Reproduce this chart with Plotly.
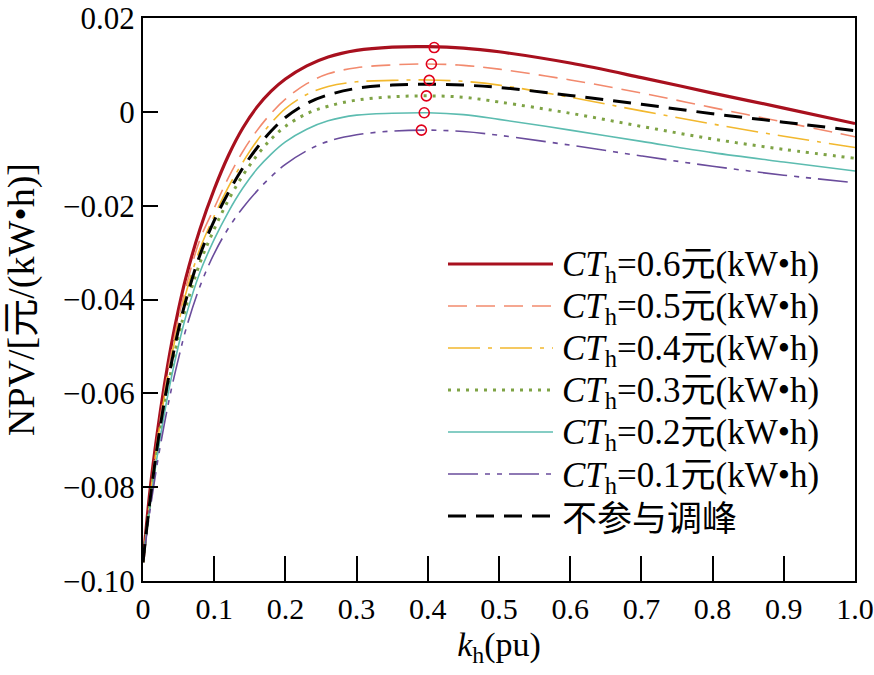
import plotly.graph_objects as go

# k_h (pu) sample points
k = [0, 0.01, 0.02, 0.03, 0.04, 0.05, 0.06, 0.08, 0.10, 0.12, 0.14, 0.16, 0.18,
     0.20, 0.23, 0.26, 0.30, 0.35, 0.40, 0.45, 0.50, 0.60, 0.70, 0.80, 0.90, 1.00]

npv_06 = [-0.096, -0.0805, -0.0685, -0.0583, -0.0495, -0.0420, -0.0355, -0.0250, -0.0165, -0.0093,
          -0.0035, 0.0010, 0.0044, 0.0070, 0.0098, 0.0117, 0.0131, 0.0138, 0.0139, 0.0136,
          0.0128, 0.0104, 0.0073, 0.0040, 0.0008, -0.0025]
npv_05 = [-0.096, -0.0815, -0.0698, -0.0598, -0.0512, -0.0438, -0.0375, -0.0272, -0.0205, -0.0140,
          -0.0085, -0.0040, -0.0003, 0.0027, 0.0060, 0.0081, 0.0094, 0.0100, 0.0102, 0.0099,
          0.0091, 0.0068, 0.0040, 0.0009, -0.0022, -0.0053]
npv_04 = [-0.096, -0.0820, -0.0705, -0.0607, -0.0523, -0.0450, -0.0388, -0.0292, -0.0222, -0.0160,
          -0.0108, -0.0062, -0.0024, 0.0007, 0.0037, 0.0054, 0.0064, 0.0067, 0.0068, 0.0065,
          0.0057, 0.0031, 0.0002, -0.0026, -0.0052, -0.0076]
npv_03 = [-0.096, -0.0832, -0.0722, -0.0628, -0.0548, -0.0478, -0.0418, -0.0322, -0.0250, -0.0188,
          -0.0136, -0.0093, -0.0058, -0.0031, -0.0004, 0.0012, 0.0025, 0.0032, 0.0034, 0.0031,
          0.0021, -0.0003, -0.0031, -0.0058, -0.0080, -0.0099]
npv_02 = [-0.096, -0.0838, -0.0733, -0.0643, -0.0565, -0.0497, -0.0437, -0.0342, -0.0272, -0.0213,
          -0.0163, -0.0122, -0.0090, -0.0064, -0.0037, -0.0019, -0.0007, -0.0003, -0.0002, -0.0006,
          -0.0016, -0.0039, -0.0063, -0.0087, -0.0107, -0.0126]
npv_01 = [-0.096, -0.0848, -0.0750, -0.0665, -0.0590, -0.0525, -0.0465, -0.0372, -0.0302, -0.0248,
          -0.0205, -0.0169, -0.0138, -0.0112, -0.0083, -0.0063, -0.0049, -0.0041, -0.0039, -0.0042,
          -0.0050, -0.0071, -0.0094, -0.0116, -0.0135, -0.0151]
npv_none = [-0.096, -0.0826, -0.0713, -0.0617, -0.0535, -0.0463, -0.0403, -0.0305, -0.0232, -0.0172,
            -0.0120, -0.0077, -0.0041, -0.0012, 0.0018, 0.0036, 0.0050, 0.0057, 0.0059, 0.0057,
            0.0052, 0.0035, 0.0016, -0.0004, -0.0022, -0.0040]

# optimum points (red circles)
opt_k = [0.409, 0.405, 0.402, 0.398, 0.395, 0.391]
opt_npv = [0.0137, 0.0102, 0.0067, 0.0034, -0.0002, -0.0039]

labels = ["<i>CT</i><sub>h</sub>=0.6元(kW•h)", "<i>CT</i><sub>h</sub>=0.5元(kW•h)",
          "<i>CT</i><sub>h</sub>=0.4元(kW•h)", "<i>CT</i><sub>h</sub>=0.3元(kW•h)",
          "<i>CT</i><sub>h</sub>=0.2元(kW•h)", "<i>CT</i><sub>h</sub>=0.1元(kW•h)",
          "不参与调峰"]

x_tickvals = [0, 0.1, 0.2, 0.3, 0.4, 0.5, 0.6, 0.7, 0.8, 0.9, 1.0]
x_ticktext = ["0", "0.1", "0.2", "0.3", "0.4", "0.5", "0.6", "0.7", "0.8", "0.9", "1.0"]
y_tickvals = [0.02, 0, -0.02, -0.04, -0.06, -0.08, -0.10]
y_ticktext = ["0.02", "0", "\u22120.02", "\u22120.04", "\u22120.06", "\u22120.08", "\u22120.10"]

series = [npv_06, npv_05, npv_04, npv_03, npv_02, npv_01, npv_none]
styles = [
    dict(color="#a8101e", width=3.2, dash="solid"),
    dict(color="#f28a6e", width=1.6, dash="19px,9px"),
    dict(color="#f2b82e", width=1.6, dash="32px,8px,4px,8px"),
    dict(color="#7ea345", width=3, dash="3px,6px"),
    dict(color="#5cbcb0", width=1.6, dash="solid"),
    dict(color="#6a4c9c", width=1.6, dash="30px,7px,5px,7px,5px,7px"),
    dict(color="#000000", width=3, dash="18px,10px"),
]

FONT = "Liberation Serif, Times New Roman, Noto Sans CJK SC, serif"

# Figure fills the window (page body margin removed by post_script below).
W, H = 874, 675
PX_L, PX_R, PX_T, PX_B = 143, 855, 18, 581          # plot box in window pixels
L, R, T, B = PX_L, W - PX_R, PX_T, H - PX_B
PW, PH = PX_R - PX_L, PX_B - PX_T


def xp(px):
    return (px - PX_L) / PW


def yp(py):
    return (PX_B - py) / PH


fig = go.Figure()
for vals, st, name in zip(series, styles, labels):
    fig.add_trace(go.Scatter(x=k, y=vals, mode="lines", name="\u00a0",
                             hovertemplate=name + "<br>k=%{x}<br>NPV=%{y}<extra></extra>",
                             line=dict(shape="spline", smoothing=1.0, **st)))

fig.add_trace(go.Scatter(x=opt_k, y=opt_npv, mode="markers", showlegend=False,
                         marker=dict(symbol="circle-open", size=10, color="#e0001b",
                                     line=dict(width=1.6, color="#e0001b"))))

row0, row_gap = 266, 42.2
for i, name in enumerate(labels):
    fig.add_annotation(xref="paper", yref="paper", x=xp(560), y=yp(row0 + i * row_gap),
                       xanchor="left", yanchor="middle", showarrow=False, text=name,
                       font=dict(size=35, family=FONT, color="black"))

fig.update_layout(
    width=W, height=H,
    margin=dict(l=L, r=R, t=T, b=B),
    paper_bgcolor="white", plot_bgcolor="white",
    font=dict(family=FONT, size=30, color="black"),
    showlegend=True,
    legend=dict(x=xp(443), y=yp(238), xanchor="left", yanchor="top",
                bgcolor="rgba(0,0,0,0)", font=dict(size=30, family=FONT),
                itemwidth=105, tracegroupgap=0),
    xaxis=dict(range=[0, 1], tickvals=x_tickvals, ticktext=x_ticktext, automargin=False,
               ticklabeloverflow="allow",
               showgrid=False, zeroline=False, showline=True, linecolor="black",
               linewidth=2, mirror=True, ticks="inside", ticklen=25, tickwidth=1.5,
               tickcolor="black", tickfont=dict(size=30, family=FONT),
               title=dict(text="<i>k</i><sub>h</sub>(pu)", font=dict(size=34, family=FONT),
                          standoff=8)),
    yaxis=dict(range=[-0.10, 0.02], tickvals=y_tickvals, ticktext=y_ticktext, automargin=False,
               ticklabeloverflow="allow",
               showgrid=False, zeroline=False, showline=True, linecolor="black",
               linewidth=2, mirror=True, ticks="inside", ticklen=15, tickwidth=1.5,
               tickcolor="black", tickfont=dict(size=31, family=FONT),
               title=dict(text="NPV/[元/(kW•h)]", font=dict(size=38, family=FONT),
                          standoff=22)),
)

fig.write_html("out.html",
               config={"displayModeBar": False},
               post_script="document.body.style.margin='0';"
                           "document.body.style.overflow='hidden';")
